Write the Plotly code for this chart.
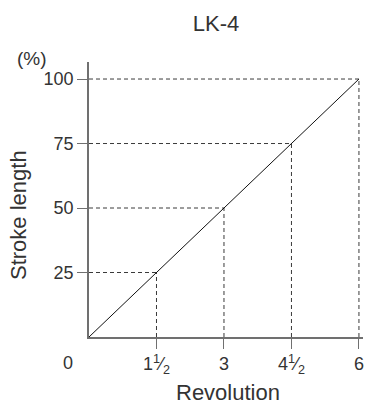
import plotly.graph_objects as go

# Data
revolution = [0, 1.5, 3, 4.5, 6]
stroke_length = [0, 25, 50, 75, 100]
x_tick_vals = [1.5, 3, 4.5, 6]
x_tick_text = ["1<sup>1</sup>⁄<sub>2</sub>", "3", "4<sup>1</sup>⁄<sub>2</sub>", "6"]
y_tick_vals = [25, 50, 75, 100]

FONT = "Liberation Sans, Arial, sans-serif"
TXT = "#333333"
AX = "#707070"
W, H = 369, 405
ML, MR, MT, MB = 89, 6, 62, 68

# guide lines built from the data points
hx, hy, vx, vy = [], [], [], []
for r, s in zip(revolution[1:], stroke_length[1:]):
    hx += [0, r, None]
    hy += [s, s, None]
    vx += [r, r, None]
    vy += [0, s, None]

fig = go.Figure()
fig.add_trace(go.Scatter(x=hx, y=hy, mode="lines",
                         line=dict(color="#3a3a3a", width=1, dash="4px,3px"),
                         hoverinfo="skip", cliponaxis=False))
fig.add_trace(go.Scatter(x=vx, y=vy, mode="lines",
                         line=dict(color="#3a3a3a", width=1, dash="4px,3px"),
                         hoverinfo="skip", cliponaxis=False))
fig.add_trace(go.Scatter(x=revolution, y=stroke_length, mode="lines",
                         line=dict(color="#111111", width=1), cliponaxis=False))


def px_to_paper(px, py):
    return (px - ML) / (W - ML - MR), 1 - (py - MT) / (H - MT - MB)


ann = []
ann.append(dict(text="0", x=0, y=0, xref="x", yref="y", showarrow=False,
                xanchor="center", yanchor="middle", xshift=-21, yshift=-26,
                font=dict(size=18, color=TXT)))
for text, (cx, cy), size, ang in [
    ("(%)", (32, 59), 19, 0),
    ("Stroke length", (18, 215), 22, -90),
    ("Revolution", (228, 392), 22, 0),
]:
    x, y = px_to_paper(cx, cy)
    ann.append(dict(text=text, x=x, y=y, xref="paper", yref="paper", showarrow=False,
                    textangle=ang, xanchor="center", yanchor="middle",
                    font=dict(size=size, color=TXT)))

fig.update_layout(
    width=W, height=H,
    margin=dict(l=ML, r=MR, t=MT, b=MB),
    paper_bgcolor="white", plot_bgcolor="white",
    showlegend=False,
    font=dict(family=FONT, color=TXT, size=18),
    title=dict(text="LK-4", x=216 / W, xanchor="center", y=1 - 23 / H, yanchor="middle",
               font=dict(size=22, color=TXT, family=FONT)),
    xaxis=dict(range=[0, 6.09], showgrid=False, zeroline=False,
               showline=True, linecolor=AX, linewidth=1.5,
               tickvals=x_tick_vals, ticktext=x_tick_text,
               ticks="outside", ticklen=10, tickcolor=AX, tickwidth=1.2,
               tickfont=dict(size=18, color=TXT, family=FONT)),
    yaxis=dict(range=[0, 106.6], showgrid=False, zeroline=False,
               showline=True, linecolor=AX, linewidth=1.5,
               tickvals=y_tick_vals,
               ticks="outside", ticklen=10, tickcolor=AX, tickwidth=1.2,
               tickfont=dict(size=18, color=TXT, family=FONT)),
    annotations=ann,
)

fig.write_html("out.html", config={"displayModeBar": False},
               post_script="document.body.style.margin='0';document.body.style.overflow='hidden';")
